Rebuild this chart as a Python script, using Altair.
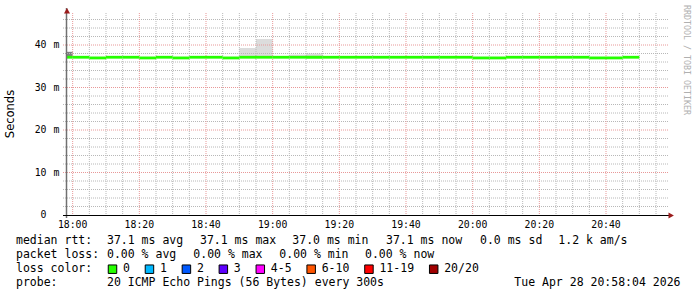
import altair as alt
import pandas as pd

# ---------------- data ----------------
# 5-minute RRD steps, minutes after 18:00
step_start = [-5, 0, 5, 10, 15, 20, 25, 30, 35, 40, 45,
              50, 55, 60, 65, 70, 75, 80, 85, 90, 95, 100, 105, 110, 115,
              120, 125, 130, 135, 140, 145, 150, 155, 160, 165]
median_ms = [37.12, 37.12, 36.96, 37.12, 37.12, 36.96, 37.12, 36.96, 37.12, 37.12, 36.96,
             37.12, 37.12, 37.12, 37.12, 37.12, 37.12, 37.12, 37.12, 37.12, 37.12, 37.12, 37.12, 37.12, 37.12,
             36.96, 36.96, 37.12, 37.12, 37.12, 37.12, 37.12, 36.96, 36.96, 37.12]

# smoke (ping spread) above the median
smoke_start = [-5, 50, 55, 65, 70]
smoke_top_ms = [38.4, 39.3, 41.4, 37.75, 38.0]
smoke_color = ["#808080", "#dcdcdc", "#dcdcdc", "#dcdcdc", "#dcdcdc"]

major_x = [0, 20, 40, 60, 80, 100, 120, 140, 160]
x_tick_labels = ["18:00", "18:20", "18:40", "19:00", "19:20", "19:40", "20:00", "20:20", "20:40"]
minor_x = [5, 10, 15, 25, 30, 35, 45, 50, 55, 65, 70, 75, 85, 90, 95, 105, 110, 115,
           125, 130, 135, 145, 150, 155, 165, 170, 175]
y_tick_values = [0, 10, 20, 30, 40]
y_tick_numbers = ["0", "10", "20", "30", "40"]
y_tick_units = ["", "m", "m", "m", "m"]
major_y = [10, 20, 30, 40]
minor_y = [2, 4, 6, 8, 12, 14, 16, 18, 22, 24, 26, 28, 32, 34, 36, 38, 42, 44, 46]

row1 = ["median rtt:", "37.1 ms avg", "37.1 ms max", "37.0 ms min", "37.1 ms now", "0.0 ms sd", "1.2 k am/s"]
row2 = ["packet loss:", "0.00 % avg", "0.00 % max", "0.00 % min", "0.00 % now"]
row3_title = "loss color:"
loss_labels = ["0", "1", "2", "3", "4-5", "6-10", "11-19", "20/20"]
loss_colors = ["#26ff00", "#00b8ff", "#0059ff", "#5e00ff", "#ff00ff", "#ff5500", "#ff0000", "#a10000"]
row4 = ["probe:", "20 ICMP Echo Pings (56 Bytes) every 300s"]
timestamp = "Tue Apr 28 20:58:04 2026"
y_title = "Seconds"
watermark = "RRDTOOL / TOBI OETIKER"

# ---------------- layout ----------------
W, H = 600, 200
PAD_L, PAD_T = 66, 15
MONO = "DejaVu Sans Mono"
NB = "\u00a0"

xs = alt.Scale(domain=[-2.0, 178.0], nice=False, zero=False)
ys = alt.Scale(domain=[0, 47.06], nice=False, zero=False)
band = 0.33

steps = pd.DataFrame({"t0": step_start, "med": median_ms})
steps["t1"] = steps["t0"] + 5
steps["lo"] = steps["med"] - band
steps["hi"] = steps["med"] + band

med_lookup = dict(zip(step_start, median_ms))
smoke = pd.DataFrame({"t0": smoke_start, "top": smoke_top_ms, "c": smoke_color})
smoke["t1"] = smoke["t0"] + 5
smoke["base"] = [med_lookup[s] for s in smoke_start]

smoke_layer = alt.Chart(smoke).mark_rect(clip=True).encode(
    x=alt.X("t0:Q", scale=xs, axis=None), x2="t1:Q",
    y=alt.Y("base:Q", scale=ys, axis=None), y2="top:Q",
    color=alt.Color("c:N", scale=None),
)

minor_v = alt.Chart(pd.DataFrame({"t": minor_x})).mark_rule(
    color="#b8b8b8", strokeDash=[1, 1], strokeWidth=1).encode(
    x=alt.X("t:Q", scale=xs, axis=None), y=alt.value(-2), y2=alt.value(H))
major_v = alt.Chart(pd.DataFrame({"t": major_x})).mark_rule(
    color="#e89898", strokeDash=[1, 1], strokeWidth=1).encode(
    x=alt.X("t:Q", scale=xs, axis=None), y=alt.value(-2), y2=alt.value(H))
minor_h = alt.Chart(pd.DataFrame({"v": minor_y})).mark_rule(
    color="#b8b8b8", strokeDash=[1, 1], strokeWidth=1).encode(
    y=alt.Y("v:Q", scale=ys, axis=None), x=alt.value(-3), x2=alt.value(W + 2))
major_h = alt.Chart(pd.DataFrame({"v": major_y})).mark_rule(
    color="#e89898", strokeDash=[1, 1], strokeWidth=1).encode(
    y=alt.Y("v:Q", scale=ys, axis=None), x=alt.value(-3), x2=alt.value(W + 2))

median_layer = alt.Chart(steps).mark_rect(clip=True, color="#26ff00").encode(
    x=alt.X("t0:Q", scale=xs, axis=None), x2="t1:Q",
    y=alt.Y("lo:Q", scale=ys, axis=None), y2="hi:Q",
)

one = pd.DataFrame({"k": [0]})
y_axis = alt.Chart(one).mark_rule(color="#707070", strokeWidth=1.5).encode(
    x=alt.value(0.5), y=alt.value(-7), y2=alt.value(H + 3))
x_axis = alt.Chart(one).mark_rule(color="#000000", strokeWidth=1).encode(
    x=alt.value(-3), x2=alt.value(W + 3), y=alt.value(H + 0.5))
up_arrow = alt.Chart(one).mark_point(
    shape="M-1,1L0,-0.8L1,1Z", filled=True, size=36, color="#9b1c1c", opacity=1).encode(
    x=alt.value(1), y=alt.value(-4.5))
right_arrow = alt.Chart(one).mark_point(
    shape="M-1,-1L0.8,0L-1,1Z", filled=True, size=36, color="#9b1c1c", opacity=1).encode(
    x=alt.value(W + 5.5), y=alt.value(H + 0.5))

x_labels = alt.Chart(pd.DataFrame({"t": major_x, "lab": x_tick_labels})).mark_text(
    font=MONO, fontSize=9.8, align="center", baseline="middle", color="#000").encode(
    x=alt.X("t:Q", scale=xs, axis=None), y=alt.value(H + 9.5), text="lab:N")
y_nums = alt.Chart(pd.DataFrame({"v": y_tick_values, "lab": y_tick_numbers})).mark_text(
    font=MONO, fontSize=9.8, align="right", baseline="middle", color="#000").encode(
    y=alt.Y("v:Q", scale=ys, axis=None), x=alt.value(-19.5), text="lab:N")
y_units = alt.Chart(pd.DataFrame({"v": y_tick_values, "lab": y_tick_units})).mark_text(
    font=MONO, fontSize=9.8, align="left", baseline="middle", color="#000").encode(
    y=alt.Y("v:Q", scale=ys, axis=None), x=alt.value(-12.5), text="lab:N")

title_layer = alt.Chart(one).mark_text(
    text=y_title, font="DejaVu Sans", fontSize=11.5, angle=270, align="center",
    baseline="middle", color="#000").encode(x=alt.value(-55), y=alt.value(99))
wm_layer = alt.Chart(one).mark_text(
    text=watermark, font=MONO, fontSize=8.3, angle=90, align="center",
    baseline="middle", color="#b0b0b0").encode(x=alt.value(620), y=alt.value(45))

# legend text items, positioned in pixels relative to plot origin
row_y = [225.7, 240.3, 254.2, 268.4]
r1_x = [-50, 41, 134, 226.3, 320, 414, 492.3]
r2_x = [-50, 41, 127.3, 213.3, 299]
r4_x = [-50, 41]
char_w = 6.95

items = []
for t, x in zip(row1, r1_x):
    items.append((t, x, row_y[0]))
for t, x in zip(row2, r2_x):
    items.append((t, x, row_y[1]))
items.append((row3_title, -50, row_y[2]))
for t, x in zip(row4, r4_x):
    items.append((t, x, row_y[3]))

sq_left = []
lab_x = []
cur = 108 - PAD_L
for lab in loss_labels:
    sq_left.append(cur)
    lab_x.append(cur + 15)
    items.append((lab, cur + 15, row_y[2]))
    cur = cur + 15 + len(lab) * char_w + 15

leg = pd.DataFrame({"txt": [i[0].replace(" ", NB) for i in items],
                    "px": [i[1] for i in items], "py": [i[2] for i in items]})
legend_text = alt.Chart(leg).mark_text(
    font=MONO, fontSize=11.5, align="left", baseline="middle", color="#000").encode(
    x=alt.X("px:Q", scale=None), y=alt.Y("py:Q", scale=None), text="txt:N")

date_text = alt.Chart(one).mark_text(
    text=timestamp.replace(" ", NB), font=MONO, fontSize=11.5, align="right",
    baseline="middle", color="#000").encode(x=alt.value(614.5), y=alt.value(row_y[3]))

sq = pd.DataFrame({"px": [s + 4.5 for s in sq_left], "c": loss_colors, "lab": loss_labels})
squares = alt.Chart(sq).mark_point(
    shape="square", filled=True, size=72, stroke="#000", strokeWidth=1, opacity=1).encode(
    x=alt.X("px:Q", scale=None), y=alt.value(row_y[2]),
    fill=alt.Color("c:N", scale=None), color=alt.value("#000"))

chart = alt.layer(
    smoke_layer, minor_v, minor_h, major_v, major_h, median_layer,
    y_axis, x_axis, up_arrow, right_arrow,
    x_labels, y_nums, y_units, title_layer, wm_layer,
    legend_text, date_text, squares,
).properties(
    width=W, height=H,
    padding={"left": PAD_L, "top": PAD_T, "right": 697 - PAD_L - W, "bottom": 297 - PAD_T - H},
    autosize=alt.AutoSizeParams(type="none"),
    background="#ffffff",
).configure_view(stroke=None)

chart.save("out.html", embed_options={"renderer": "svg", "actions": False})
